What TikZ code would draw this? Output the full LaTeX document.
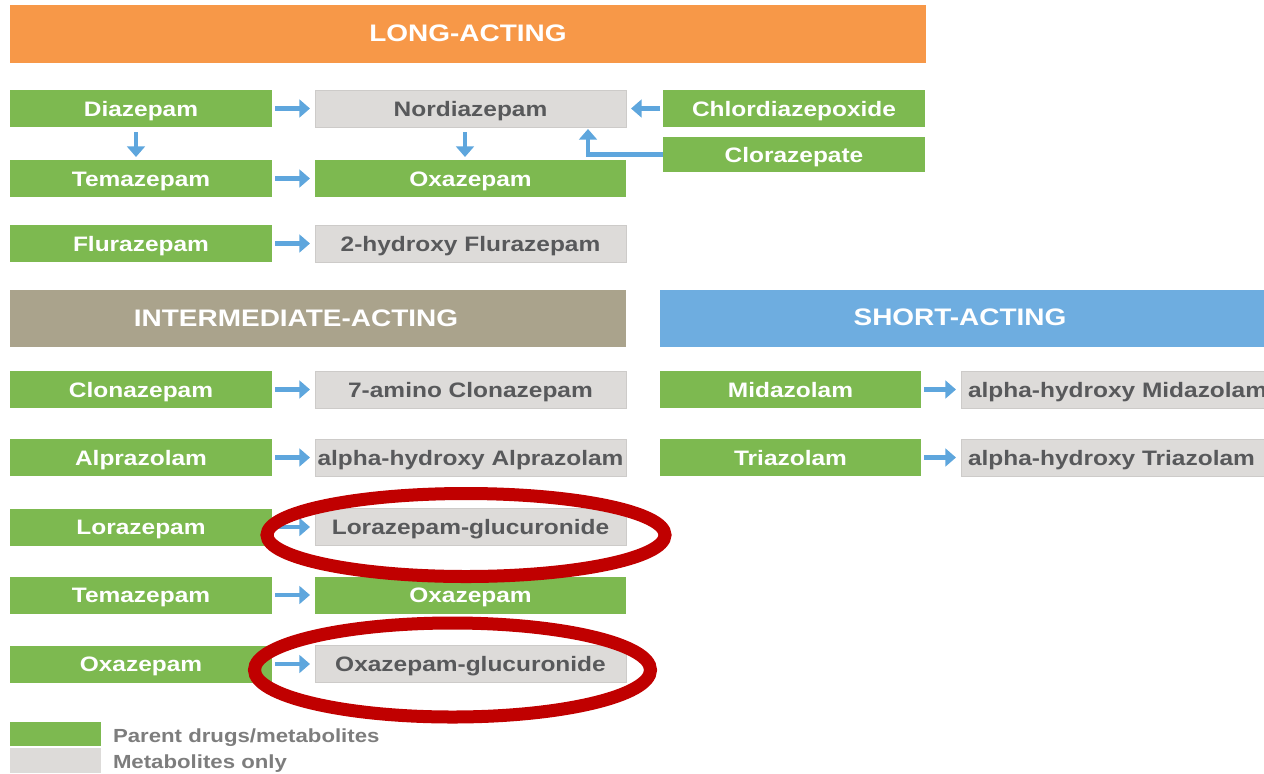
\documentclass[tikz,border=0pt]{standalone}
\usepackage{fontspec}
\setmainfont{Liberation Sans}[FakeStretch=1.17]
\usetikzlibrary{arrows.meta}
\definecolor{hdrorange}{RGB}{247,152,72}
\definecolor{hdrtan}{RGB}{170,163,140}
\definecolor{hdrblue}{RGB}{110,173,224}
\definecolor{boxgreen}{RGB}{125,185,80}
\definecolor{boxgrey}{RGB}{221,219,217}
\definecolor{greyline}{RGB}{205,203,201}
\definecolor{greytext}{RGB}{88,89,91}
\definecolor{legtext}{RGB}{125,125,125}
\definecolor{arrblue}{RGB}{94,166,221}
\definecolor{ringred}{RGB}{192,0,0}
\tikzset{
  every node/.style={inner sep=0pt, outer sep=0pt},
  hdr/.style={rectangle, minimum height=1.15cm, text=white, text height=0.9em, text depth=0pt, font=\fontsize{13.6pt}{15pt}\selectfont\bfseries},
  gbox/.style={rectangle, fill=boxgreen, minimum height=0.74cm, text=white, text height=0.9em, text depth=0pt, font=\fontsize{11.9pt}{13pt}\selectfont\bfseries},
  mbox/.style={rectangle, fill=boxgrey, draw=greyline, line width=0.4pt, minimum height=0.74cm, text=greytext, text height=0.9em, text depth=0pt, font=\fontsize{11.9pt}{13pt}\selectfont\bfseries},
  sidetxt/.style={anchor=west, text=greytext, text height=0.9em, text depth=0pt, font=\fontsize{11.9pt}{13pt}\selectfont\bfseries},
  leftcol/.style={minimum width=5.24cm},
  midcol/.style={minimum width=6.22cm},
  arr/.style={draw=arrblue, line width=2.3pt, -{Triangle[length=6pt,width=10pt]}, shorten <=0.06cm, shorten >=0.1cm},
  ring/.style={draw=ringred, line width=7.4pt},
  legtxt/.style={anchor=west, text=legtext, text height=0.9em, text depth=0pt, font=\fontsize{10.8pt}{12pt}\selectfont\bfseries}
}
\begin{document}
\begin{tikzpicture}
\useasboundingbox (0,0) rectangle (25.28,-15.46);
\clip (0,0) rectangle (25.28,-15.46);
% headers
\node[hdr, fill=hdrorange, minimum width=18.32cm, minimum height=1.16cm] (hlong) at (9.36,-0.68) {LONG-ACTING};
\node[hdr, fill=hdrtan, minimum width=12.32cm] (hint) at (6.36,-6.37) {};
\node[hdr] (hinttxt) at (5.92,-6.38) {INTERMEDIATE-ACTING};
\node[hdr, fill=hdrblue, minimum width=12.4cm] (hshort) at (19.4,-6.37) {};
\node[hdr] (hshorttxt) at (19.2,-6.36) {SHORT-ACTING};
% long-acting
\node[gbox, leftcol] (dia) at (2.82,-2.17) {Diazepam};
\node[mbox, midcol] (nor) at (9.41,-2.17) {Nordiazepam};
\node[gbox, leftcol] (chl) at (15.88,-2.17) {Chlordiazepoxide};
\node[gbox, leftcol, minimum height=0.71cm] (clo) at (15.88,-3.09) {Clorazepate};
\node[gbox, leftcol] (tem) at (2.82,-3.57) {Temazepam};
\node[gbox, midcol] (oxa) at (9.41,-3.57) {Oxazepam};
\node[gbox, leftcol] (flu) at (2.82,-4.87) {Flurazepam};
\node[mbox, midcol] (hflu) at (9.41,-4.87) {2-hydroxy Flurazepam};
\draw[arr] (dia) -- (nor);
\draw[arr] (chl) -- (nor);
\draw[arr, shorten <=0.1cm, shorten >=0.06cm] ([xshift=-0.1cm]dia.south) -- ([xshift=-0.1cm]tem.north);
\draw[arr, shorten <=0.1cm, shorten >=0.06cm] ([xshift=-0.11cm]nor.south) -- ([xshift=-0.11cm]oxa.north);
\draw[arr, shorten <=0pt, shorten >=0.04cm] (clo.west) -| ([xshift=-0.76cm]nor.south east);
\draw[arr] (tem) -- (oxa);
\draw[arr] (flu) -- (hflu);
% intermediate-acting
\node[gbox, leftcol] (clon) at (2.82,-7.79) {Clonazepam};
\node[mbox, midcol] (aclon) at (9.41,-7.79) {7-amino Clonazepam};
\node[gbox, leftcol] (alp) at (2.82,-9.15) {Alprazolam};
\node[mbox, midcol] (halp) at (9.41,-9.15) {alpha-hydroxy Alprazolam};
\node[gbox, leftcol] (lor) at (2.82,-10.54) {Lorazepam};
\node[mbox, midcol] (glor) at (9.41,-10.54) {Lorazepam-glucuronide};
\node[gbox, leftcol] (tem2) at (2.82,-11.9) {Temazepam};
\node[gbox, midcol] (oxa2) at (9.41,-11.9) {Oxazepam};
\node[gbox, leftcol] (oxa3) at (2.82,-13.28) {Oxazepam};
\node[mbox, midcol] (goxa) at (9.41,-13.28) {Oxazepam-glucuronide};
\draw[arr] (clon) -- (aclon);
\draw[arr] (alp) -- (halp);
\draw[arr] (lor) -- (glor);
\draw[arr] (tem2) -- (oxa2);
\draw[arr] (oxa3) -- (goxa);
% short-acting
\node[gbox, minimum width=5.22cm] (mid) at (15.81,-7.79) {Midazolam};
\node[mbox, minimum width=6.38cm] (hmid) at (22.41,-7.79) {};
\node[sidetxt] (hmidtxt) at (19.36,-7.79) {alpha-hydroxy Midazolam};
\node[gbox, minimum width=5.22cm] (tri) at (15.81,-9.15) {Triazolam};
\node[mbox, minimum width=6.38cm] (htri) at (22.41,-9.15) {};
\node[sidetxt] (htritxt) at (19.36,-9.15) {alpha-hydroxy Triazolam};
\draw[arr] (mid) -- (hmid);
\draw[arr] (tri) -- (htri);
% red rings
\draw[ring] (9.32,-10.7) ellipse [x radius=3.98cm, y radius=0.83cm];
\draw[ring] (9.05,-13.4) ellipse [x radius=3.96cm, y radius=0.94cm];
% legend
\node[rectangle, fill=boxgreen, minimum width=1.82cm, minimum height=0.48cm] (lg) at (1.11,-14.68) {};
\node[rectangle, fill=boxgrey, minimum width=1.82cm, minimum height=0.5cm] (lm) at (1.11,-15.21) {};
\node[legtxt] (lgt) at (2.26,-14.70) {Parent drugs/metabolites};
\node[legtxt] (lmt) at (2.26,-15.22) {Metabolites only};
\end{tikzpicture}
\end{document}
